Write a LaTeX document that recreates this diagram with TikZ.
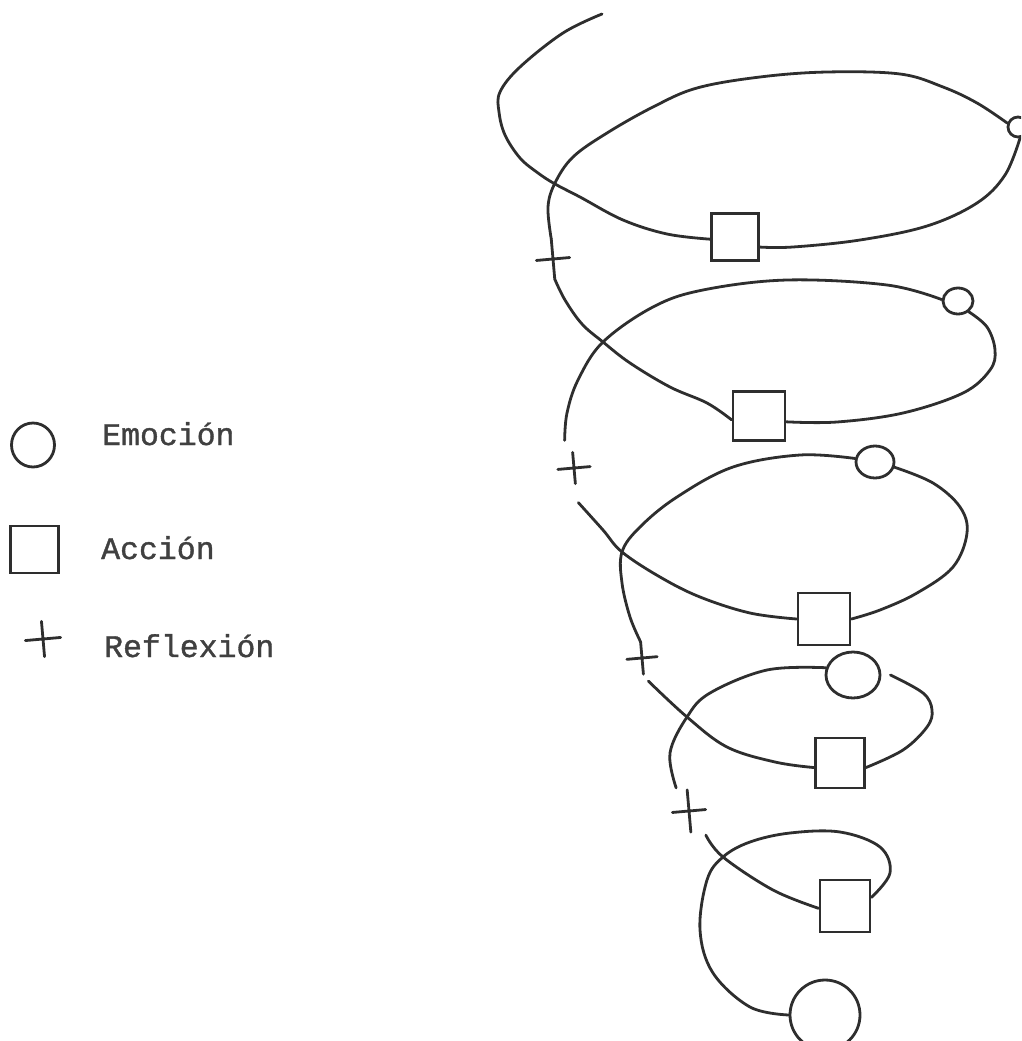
\documentclass[tikz,border=0pt]{standalone}
\usepackage{fontspec}
\newfontfamily\monof[FakeBold=1.2]{Liberation Mono}
\usetikzlibrary{shapes.geometric,calc}
\begin{document}
\begin{tikzpicture}[x=1pt,y=-1pt,
  ln/.style={line width=2.8pt, draw=black!82, line cap=round, line join=round},
  emo/.style={ellipse, draw=black!82, line width=2.8pt, inner sep=0pt},
  acc/.style={rectangle, draw=black!82, line width=2.8pt, inner sep=0pt},
  refl/.style={rectangle, inner sep=0pt, rotate=5},
  lbl/.style={anchor=base west, font=\monof\fontsize{31.5}{36}\selectfont, text=black!75, inner sep=0pt}]
\useasboundingbox (0,0) rectangle (1021,1041);
\clip (0,0) rectangle (1021,1041);

% ---- spiral nodes ----
\coordinate (s0) at (602,14);
\node[acc, minimum width=47pt, minimum height=47pt] (sq1) at (735,237) {};
\node[emo, minimum width=20pt, minimum height=20pt] (c1) at (1018,127) {};
\node[refl, minimum width=33pt, minimum height=40pt] (x1) at (553,259) {};
\node[acc, minimum width=52pt, minimum height=49pt] (sq2) at (759,416) {};
\node[emo, minimum width=30pt, minimum height=26pt] (c2) at (958,301) {};
\node[refl, minimum width=32pt, minimum height=31pt] (x2) at (574,468) {};
\node[acc, minimum width=52pt, minimum height=52pt] (sq3) at (824,619) {};
\node[emo, minimum width=38pt, minimum height=32pt] (c3) at (875,462) {};
\node[refl, minimum width=30pt, minimum height=32pt] (x3) at (642,658) {};
\node[acc, minimum width=49pt, minimum height=50pt] (sq4) at (840,763) {};
\node[emo, minimum width=54pt, minimum height=46pt] (c4) at (853,675) {};
\node[refl, minimum width=33pt, minimum height=42pt] (x4) at (689,811) {};
\node[acc, minimum width=50pt, minimum height=52pt] (sq5) at (845,906) {};
\node[emo, minimum width=70pt, minimum height=70pt] (c5) at (825,1015) {};

% crosses
\foreach \n in {x1,x2,x3,x4}{
  \draw[ln] (\n.north) -- (\n.south) (\n.west) -- (\n.east);
}

% ---- spiral connectors ----
\draw[ln] plot[smooth,tension=0.6] coordinates {(s0) (563,33) (520,67) (500,92) (499,112) (505,135) (520,158) (538,173) (555,184) (580,197) (623,220) (667,234) (sq1.-175)};
\draw[ln] plot[smooth,tension=0.6] coordinates {(sq1.-22) (793,247) (860,240) (927,226) (977,203) (1005,175) (c1.-80)};
\draw[ln] plot[smooth,tension=0.6] coordinates {(c1.160) (977,103) (943,87) (900,74) (827,72) (760,77) (697,88) (653,107) (607,133) (573,157) (555,183) (548,207) (x1.north)};
\draw[ln] plot[smooth,tension=0.6] coordinates {(x1.south) (565,300) (582,324) (603,342) (630,363) (670,387) (707,403) (sq2.-172)};
\draw[ln] plot[smooth,tension=0.6] coordinates {(sq2.-12) (837,422) (903,413) (963,393) (990,370) (995,350) (987,327) (c2.-45)};
\draw[ln] plot[smooth,tension=0.6] coordinates {(c2.175) (887,285) (787,280) (703,290) (653,307) (603,342) (578,380) (567,413) ($(x2.north)+(-8,-12)$)};
\draw[ln] plot[smooth,tension=0.6] coordinates {($(x2.south)+(3,19)$) (603,530) (622,552) (660,577) (700,597) (750,613) (sq3.west)};
\draw[ln] plot[smooth,tension=0.6] coordinates {(sq3.east) (880,610) (917,593) (953,567) (967,533) (960,507) (933,483) (c3.-15)};
\draw[ln] plot[smooth,tension=0.6] coordinates {(c3.170) (800,455) (733,467) (677,497) (640,527) (622,552) (622,583) (630,617) (x3.north)};
\draw[ln] plot[smooth,tension=0.6] coordinates {($(x3.south)+(5,7)$) (687,717) (727,747) (775,762) (sq4.-170)};
\draw[ln] plot[smooth,tension=0.6] coordinates {(sq4.-10) (903,750) (927,727) (932,710) (923,693) ($(c4.east)+(9,0)$)};
\draw[ln] plot[smooth,tension=0.6] coordinates {(c4.165) (767,670) (710,693) (687,717) (670,753) ($(x4.north)+(-11,-2)$)};
\draw[ln] plot[smooth,tension=0.6] coordinates {($(x4.south)+(15,3)$) (723,857) (773,890) (sq5.-175)};
\draw[ln] plot[smooth,tension=0.6] coordinates {(sq5.18) (890,873) (880,847) (840,832) (790,833) (750,842) (723,857) (707,880) (700,930) (713,973) (750,1007) (c5.west)};

% ---- legend ----
\node[emo, minimum width=43pt, minimum height=44pt] (lc) at (33,445) {};
\node[acc, minimum width=48pt, minimum height=47pt] (ls) at (34.5,549.5) {};
\node[refl, minimum width=35pt, minimum height=35pt] (lx) at (43,639) {};
\draw[ln] (lx.north) -- (lx.south) (lx.west) -- (lx.east);
\node[lbl] (te) at (102,445) {Emoción};
\node[lbl] (ta) at (101,559) {Acción};
\node[lbl] (tr) at (104,657) {Reflexión};
\end{tikzpicture}
\end{document}
